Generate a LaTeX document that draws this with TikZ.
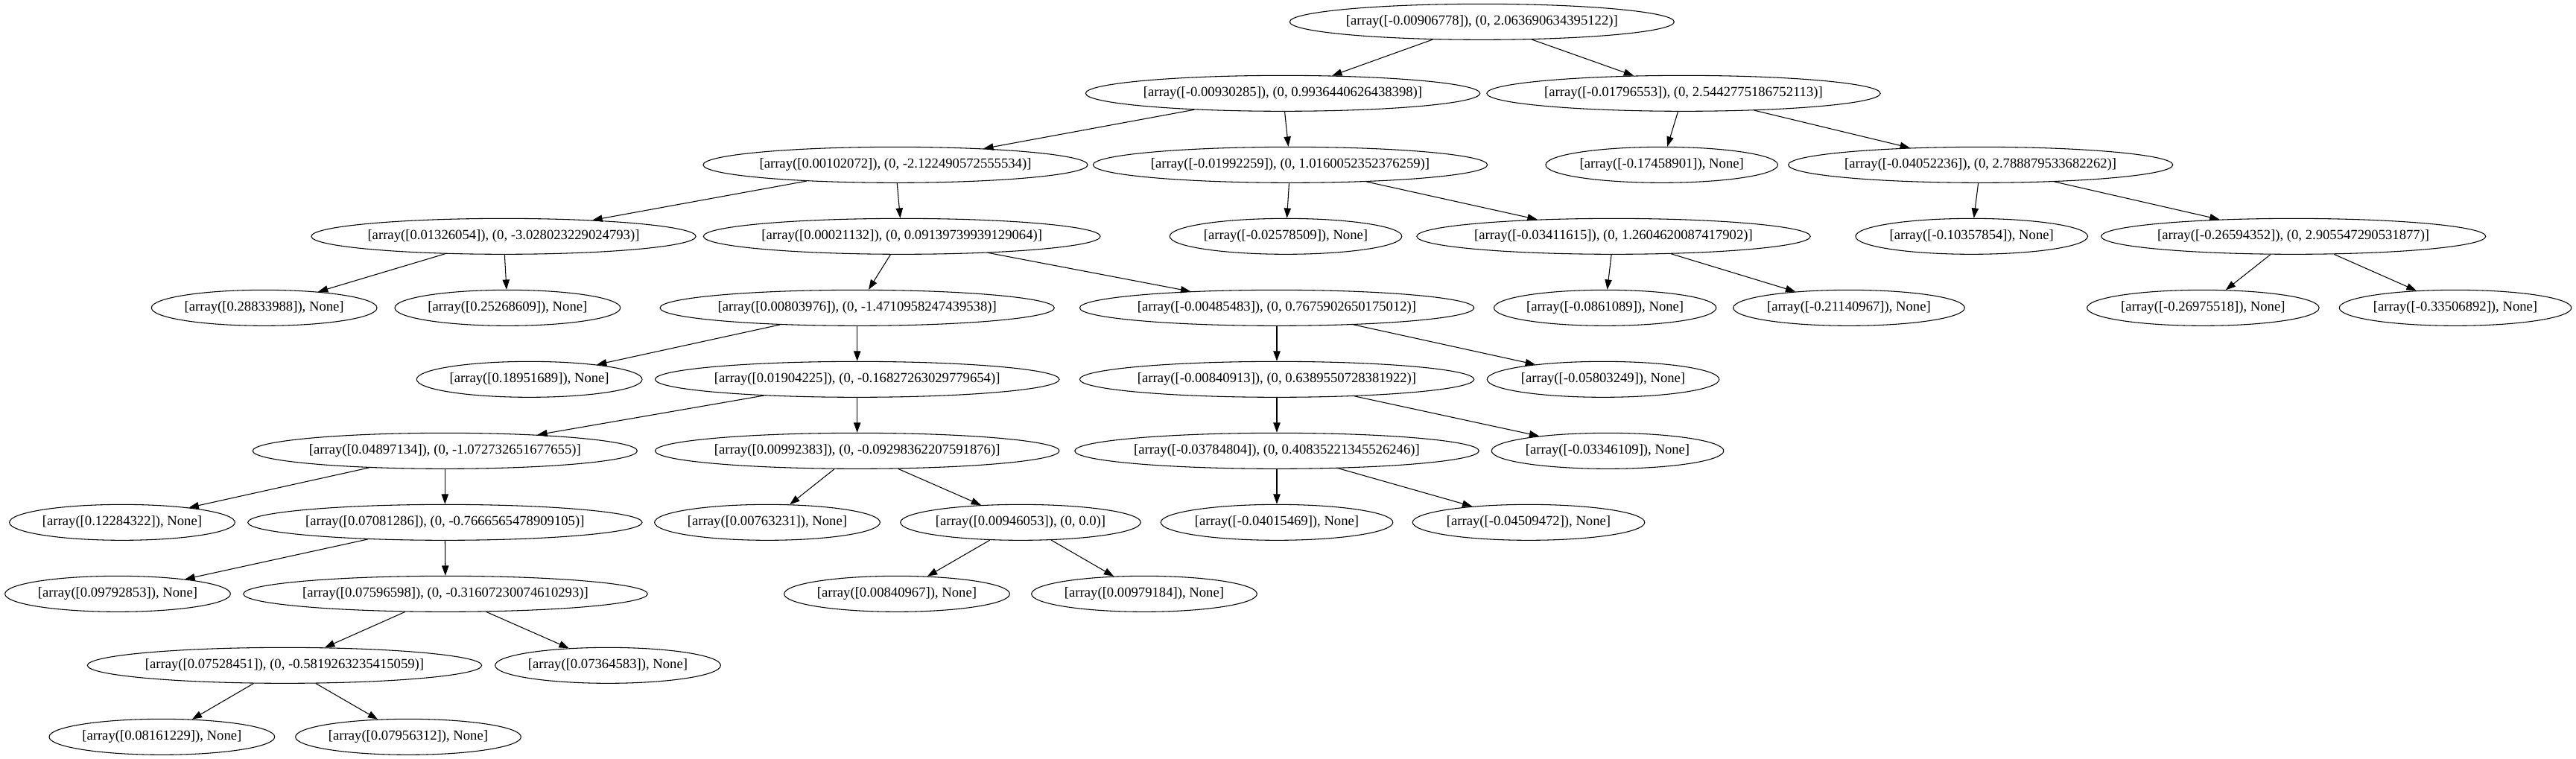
\documentclass[tikz,border=0pt]{standalone}
\usepackage{fontspec}
\setmainfont{Liberation Serif}
\usetikzlibrary{shapes.geometric,arrows.meta}
\begin{document}
\begin{tikzpicture}[x=1pt,y=1pt,
  nd/.style={draw, ellipse, line width=0.8pt, inner xsep=0pt, inner ysep=0pt, minimum height=36pt, font=\fontsize{14pt}{16pt}\selectfont},
  edge/.style={line width=0.8pt, -{Triangle[length=10pt,width=7pt]}}]
\useasboundingbox (0,0) rectangle (2593.5,-764.25);
% row 0
\node[nd] (n0) at (1492,-22) {[array([-0.00906778]), (0, 2.063690634395122)]};
% row 1
\node[nd] (n1) at (1291.5,-94) {[array([-0.00930285]), (0, 0.9936440626438398)]};
\node[nd] (n2) at (1695,-94) {[array([-0.01796553]), (0, 2.5442775186752113)]};
% row 2
\node[nd] (n3) at (901.5,-166) {[array([0.00102072]), (0, -2.122490572555534)]};
\node[nd] (n4) at (1299,-166) {[array([-0.01992259]), (0, 1.0160052352376259)]};
\node[nd] (n5) at (1673,-166) {[array([-0.17458901]), None]};
\node[nd] (n6) at (1994,-166) {[array([-0.04052236]), (0, 2.788879533682262)]};
% row 3
\node[nd] (n7) at (507,-238) {[array([0.01326054]), (0, -3.028023229024793)]};
\node[nd] (n8) at (908,-238) {[array([0.00021132]), (0, 0.09139739939129064)]};
\node[nd] (n9) at (1294.5,-238) {[array([-0.02578509]), None]};
\node[nd] (n10) at (1624.5,-238) {[array([-0.03411615]), (0, 1.2604620087417902)]};
\node[nd] (n11) at (1985,-238) {[array([-0.10357854]), None]};
\node[nd] (n12) at (2309,-238) {[array([-0.26594352]), (0, 2.905547290531877)]};
% row 4
\node[nd] (n13) at (266,-310) {[array([0.28833988]), None]};
\node[nd] (n14) at (511,-310) {[array([0.25268609]), None]};
\node[nd] (n15) at (863,-310) {[array([0.00803976]), (0, -1.4710958247439538)]};
\node[nd] (n16) at (1285.5,-310) {[array([-0.00485483]), (0, 0.7675902650175012)]};
\node[nd] (n17) at (1616,-310) {[array([-0.0861089]), None]};
\node[nd] (n18) at (1861.5,-310) {[array([-0.21140967]), None]};
\node[nd] (n19) at (2218,-310) {[array([-0.26975518]), None]};
\node[nd] (n20) at (2472,-310) {[array([-0.33506892]), None]};
% row 5
\node[nd] (n21) at (533,-382) {[array([0.18951689]), None]};
\node[nd] (n22) at (863,-382) {[array([0.01904225]), (0, -0.16827263029779654)]};
\node[nd] (n23) at (1285.5,-382) {[array([-0.00840913]), (0, 0.6389550728381922)]};
\node[nd] (n24) at (1614,-382) {[array([-0.05803249]), None]};
% row 6
\node[nd] (n25) at (448,-454) {[array([0.04897134]), (0, -1.072732651677655)]};
\node[nd] (n26) at (863,-454) {[array([0.00992383]), (0, -0.09298362207591876)]};
\node[nd] (n27) at (1285.5,-454) {[array([-0.03784804]), (0, 0.40835221345526246)]};
\node[nd] (n28) at (1618.5,-454) {[array([-0.03346109]), None]};
% row 7
\node[nd] (n29) at (123,-526) {[array([0.12284322]), None]};
\node[nd] (n30) at (448,-526) {[array([0.07081286]), (0, -0.7666565478909105)]};
\node[nd] (n31) at (772.5,-526) {[array([0.00763231]), None]};
\node[nd] (n32) at (1027.5,-526) {[array([0.00946053]), (0, 0.0)]};
\node[nd] (n33) at (1285.5,-526) {[array([-0.04015469]), None]};
\node[nd] (n34) at (1539,-526) {[array([-0.04509472]), None]};
% row 8
\node[nd] (n35) at (118.5,-598) {[array([0.09792853]), None]};
\node[nd] (n36) at (448.5,-598) {[array([0.07596598]), (0, -0.31607230074610293)]};
\node[nd] (n37) at (903,-598) {[array([0.00840967]), None]};
\node[nd] (n38) at (1152,-598) {[array([0.00979184]), None]};
% row 9
\node[nd] (n39) at (286.5,-670) {[array([0.07528451]), (0, -0.5819263235415059)]};
\node[nd] (n40) at (612,-670) {[array([0.07364583]), None]};
% row 10
\node[nd] (n41) at (163,-742) {[array([0.08161229]), None]};
\node[nd] (n42) at (411,-742) {[array([0.07956312]), None]};
% edges
\foreach \a/\b in {n0/n1,n0/n2,n1/n3,n1/n4,n2/n5,n2/n6,n3/n7,n3/n8,n4/n9,n4/n10,
  n6/n11,n6/n12,n7/n13,n7/n14,n8/n15,n8/n16,n10/n17,n10/n18,n12/n19,n12/n20,
  n15/n21,n15/n22,n16/n23,n16/n24,n22/n25,n22/n26,n23/n27,n23/n28,n25/n29,n25/n30,
  n26/n31,n26/n32,n27/n33,n27/n34,n30/n35,n30/n36,n32/n37,n32/n38,n36/n39,n36/n40,
  n39/n41,n39/n42}
  \draw[edge] (\a) -- (\b);
\end{tikzpicture}
\end{document}
